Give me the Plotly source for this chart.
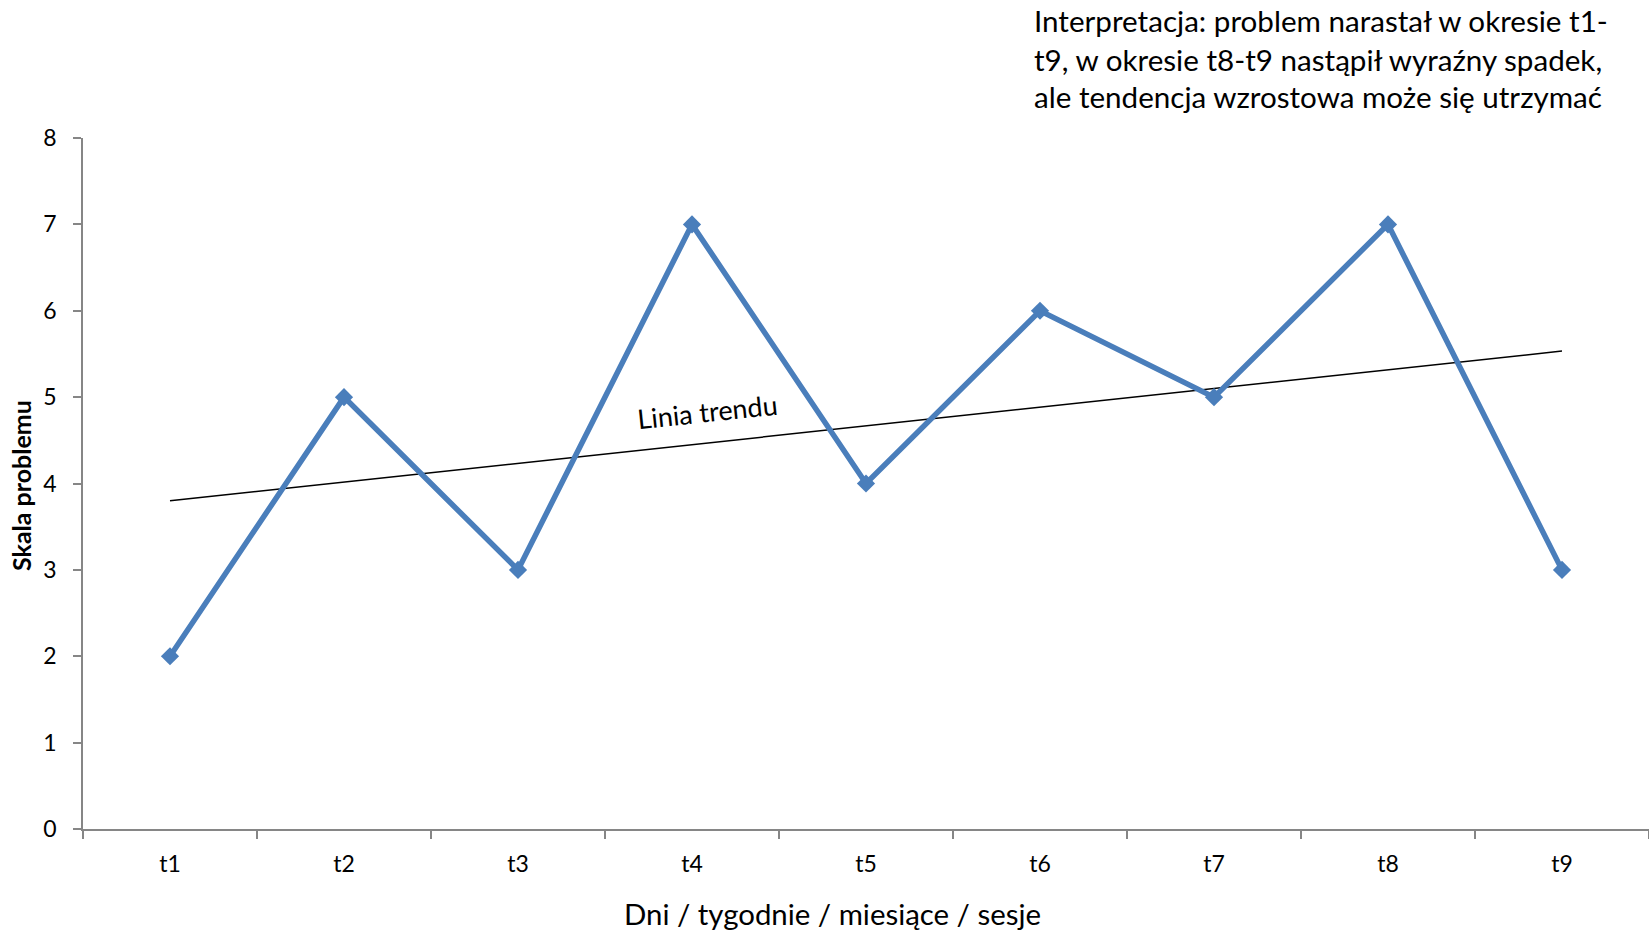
import numpy as np
import plotly.graph_objects as go

categories = ["t1", "t2", "t3", "t4", "t5", "t6", "t7", "t8", "t9"]
values = [2, 5, 3, 7, 4, 6, 5, 7, 3]
y_ticks = [0, 1, 2, 3, 4, 5, 6, 7, 8]
note_lines = [
    "Interpretacja: problem narastał w okresie t1-",
    "t9, w okresie t8-t9 nastąpił wyraźny spadek,",
    "ale tendencja wzrostowa może się utrzymać",
]
x_title = "Dni / tygodnie / miesiące / sesje"
y_title = "Skala problemu"
trend_label = "Linia trendu"

idx = np.arange(len(values))
slope, intercept = np.polyfit(idx, values, 1)
trend = slope * idx + intercept

FONT = "Lato"
fig = go.Figure()
fig.add_trace(go.Scatter(
    x=categories, y=trend, mode="lines",
    line=dict(color="black", width=1.5), hoverinfo="skip", showlegend=False))
fig.add_trace(go.Scatter(
    x=categories, y=values, mode="lines+markers",
    line=dict(color="#4A7EBB", width=5.5),
    marker=dict(symbol="diamond", size=14, color="#4A7EBB"),
    showlegend=False, cliponaxis=False))

W, H = 1649, 931
L, R, T, B = 83, 0, 138, 102
fig.update_layout(
    width=W, height=H,
    margin=dict(l=L, r=R, t=T, b=B, pad=0),
    paper_bgcolor="white", plot_bgcolor="white",
    font=dict(family=FONT, color="black", size=20),
    xaxis=dict(
        type="category", range=[-0.5, 8.5], automargin=False,
        showline=True, linecolor="#868686", linewidth=1.5,
        ticks="outside", tickson="boundaries", ticklen=8, tickcolor="#868686", tickwidth=1.5,
        showgrid=False, zeroline=False,
        tickfont=dict(size=23), ticklabelstandoff=14,
    ),
    yaxis=dict(
        range=[0, 8], tickvals=y_ticks, automargin=False,
        showline=True, linecolor="#868686", linewidth=1.5,
        ticks="outside", ticklen=8, tickcolor="#868686", tickwidth=1.5,
        showgrid=False, zeroline=False,
        tickfont=dict(size=23), ticklabelstandoff=12,
    ),
)

plot_h = H - T - B
plot_w = W - L - R

# axis titles placed as annotations (positions as in the reference)
fig.add_annotation(
    text=x_title, xref="paper", yref="paper",
    x=(832 - L) / plot_w, y=(H - B - 913) / plot_h,
    xanchor="center", yanchor="middle", showarrow=False,
    font=dict(size=29.4, family=FONT))
fig.add_annotation(
    text="<b>" + y_title + "</b>", xref="paper", yref="paper",
    x=(21 - L) / plot_w, y=(H - B - 486) / plot_h,
    xanchor="center", yanchor="middle", showarrow=False, textangle=-90,
    font=dict(size=25, family=FONT))

for line, p in zip(note_lines, [21, 59, 97]):
    fig.add_annotation(
        text=line, xref="paper", yref="paper",
        x=(1032 - L) / plot_w, y=(H - B - p) / plot_h,
        xanchor="left", yanchor="middle", showarrow=False,
        font=dict(size=29.6, family=FONT))

fig.add_annotation(
    text=trend_label, xref="x", yref="y", x=3.09, y=4.83,
    showarrow=False, textangle=-6, font=dict(size=27, family=FONT))

fig.write_html(
    "out.html",
    config={"displayModeBar": False},
    post_script="document.body.style.margin='0';document.body.style.overflow='hidden';",
)
